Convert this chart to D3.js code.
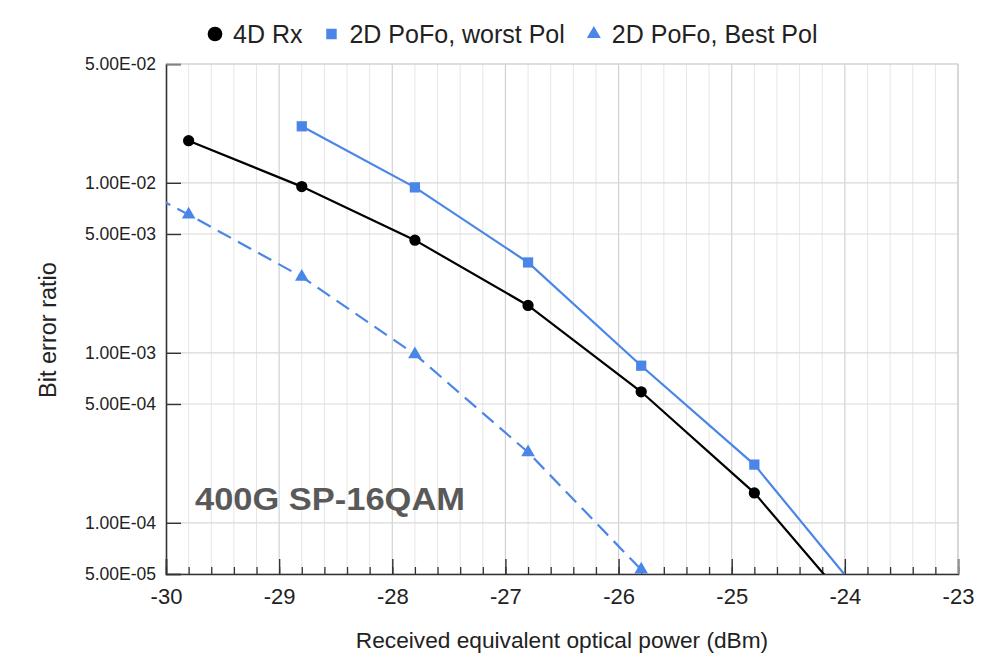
<!DOCTYPE html>
<html>
<head>
<meta charset="utf-8">
<script src="https://cdn.jsdelivr.net/npm/d3@7"></script>
<style>
  body { margin: 0; background: #fff; }
  svg { font-family: "Liberation Sans", Arial, sans-serif; }
</style>
</head>
<body>
<svg id="chart"></svg>
<script>
// series: received power (dBm) vs bit error ratio
const rxPower = [-29.8, -28.8, -27.8, -26.8, -25.8, -24.8, -23.8];
const rxBer = [1.77e-2, 9.5e-3, 4.6e-3, 1.9e-3, 5.9e-4, 1.5e-4, 2.5e-5];

const worstPower = [-28.8, -27.8, -26.8, -25.8, -24.8, -23.8];
const worstBer = [2.15e-2, 9.4e-3, 3.4e-3, 8.4e-4, 2.2e-4, 3.4e-5];

const bestPower = [-30.8, -29.8, -28.8, -27.8, -26.8, -25.8];
const bestBer = [1.45e-2, 6.5e-3, 2.8e-3, 9.8e-4, 2.6e-4, 5.3e-5];

const xTicks = [-30, -29, -28, -27, -26, -25, -24, -23];
const yTicks = [5e-2, 1e-2, 5e-3, 1e-3, 5e-4, 1e-4, 5e-5];

const seriesNames = ["4D Rx", "2D PoFo, worst Pol", "2D PoFo, Best Pol"];

const width = 997, height = 663;
const margin = {top: 64, right: 39, bottom: 89, left: 166};
const blue = "#4a86e8";

const svg = d3.select("#chart")
  .attr("width", width)
  .attr("height", height);

const x = d3.scaleLinear()
  .domain([-30, -23])
  .range([margin.left, width - margin.right]);

const y = d3.scaleLog()
  .domain([5e-5, 5e-2])
  .range([height - margin.bottom, margin.top]);

const fmtE = v => {
  const [m, e] = v.toExponential(2).split("e");
  const n = +e;
  return m + "E" + (n < 0 ? "-" : "+") + String(Math.abs(n)).padStart(2, "0");
};

// grid
const minorX = d3.range(-30, -22.99, 0.2).map(v => Math.round(v * 10) / 10);
svg.append("g")
  .selectAll("line")
  .data(minorX.filter(v => Math.abs(v - Math.round(v)) > 1e-6))
  .join("line")
  .attr("x1", d => x(d)).attr("x2", d => x(d))
  .attr("y1", y.range()[1]).attr("y2", y.range()[0])
  .attr("stroke", "#e6e6e6").attr("stroke-width", 1);

svg.append("g")
  .selectAll("line")
  .data(xTicks.slice(1))
  .join("line")
  .attr("x1", d => x(d)).attr("x2", d => x(d))
  .attr("y1", y.range()[1]).attr("y2", y.range()[0])
  .attr("stroke", "#d2d2d2").attr("stroke-width", 1.2);

svg.append("g")
  .selectAll("line")
  .data(yTicks)
  .join("line")
  .attr("x1", x.range()[0]).attr("x2", x.range()[1])
  .attr("y1", d => y(d)).attr("y2", d => y(d))
  .attr("stroke", "#d9d9d9").attr("stroke-width", 1.2);

// axes
const yAxis = d3.axisLeft(y)
  .tickValues(yTicks)
  .tickFormat(fmtE)
  .tickSize(-15)
  .tickPadding(10);

svg.append("g")
  .attr("transform", `translate(${margin.left},0)`)
  .call(yAxis)
  .call(g => g.select(".domain").attr("stroke", "#333").attr("stroke-width", 1.6))
  .call(g => g.selectAll(".tick line").attr("stroke", "#333").attr("stroke-width", 1.4))
  .call(g => g.selectAll(".tick text")
    .attr("font-size", 17.5).attr("fill", "#222")
    .attr("font-family", "Liberation Sans, Arial, sans-serif"));

const xMinor = d3.axisBottom(x)
  .tickValues(minorX)
  .tickFormat("")
  .tickSize(-7);

svg.append("g")
  .attr("transform", `translate(0,${height - margin.bottom})`)
  .call(xMinor)
  .call(g => g.select(".domain").remove())
  .call(g => g.selectAll(".tick line").attr("stroke", "#333").attr("stroke-width", 1.3));

const xAxis = d3.axisBottom(x)
  .tickValues(xTicks)
  .tickFormat(d => String(d))
  .tickSize(-15)
  .tickPadding(14);

svg.append("g")
  .attr("transform", `translate(0,${height - margin.bottom})`)
  .call(xAxis)
  .call(g => g.select(".domain").attr("stroke", "#333").attr("stroke-width", 1.6))
  .call(g => g.selectAll(".tick line").attr("stroke", "#333").attr("stroke-width", 1.4))
  .call(g => g.selectAll(".tick text")
    .attr("font-size", 22).attr("fill", "#222")
    .attr("font-family", "Liberation Sans, Arial, sans-serif"));

// top / right frame
svg.append("line")
  .attr("x1", x.range()[0]).attr("x2", x.range()[1])
  .attr("y1", y.range()[1]).attr("y2", y.range()[1])
  .attr("stroke", "#d0d0d0").attr("stroke-width", 1.2);
svg.append("line")
  .attr("x1", x.range()[1]).attr("x2", x.range()[1])
  .attr("y1", y.range()[1]).attr("y2", y.range()[0])
  .attr("stroke", "#d0d0d0").attr("stroke-width", 1.2);

// titles
svg.append("text")
  .attr("x", 562)
  .attr("y", 648)
  .attr("text-anchor", "middle")
  .attr("font-size", 22.7).attr("fill", "#222")
  .text("Received equivalent optical power (dBm)");

svg.append("text")
  .attr("transform", "translate(56,330) rotate(-90)")
  .attr("text-anchor", "middle")
  .attr("font-size", 23.5).attr("fill", "#222")
  .text("Bit error ratio");

svg.append("text")
  .attr("x", 195)
  .attr("y", 510)
  .attr("font-size", 31).attr("font-weight", "bold").attr("fill", "#595959")
  .attr("textLength", 270).attr("lengthAdjust", "spacingAndGlyphs")
  .text("400G SP-16QAM");

// series
svg.append("clipPath").attr("id", "plot-clip")
  .append("rect")
  .attr("x", x.range()[0]).attr("y", y.range()[1])
  .attr("width", x.range()[1] - x.range()[0])
  .attr("height", y.range()[0] - y.range()[1]);

const series = [
  {name: seriesNames[0], xs: rxPower, ys: rxBer, color: "#000", dash: null, symbol: d3.symbolCircle, size: 100},
  {name: seriesNames[1], xs: worstPower, ys: worstBer, color: blue, dash: null, symbol: d3.symbolSquare, size: 105},
  {name: seriesNames[2], xs: bestPower, ys: bestBer, color: blue, dash: "15,8", symbol: d3.symbolTriangle, size: 80}
];

const line = d3.line()
  .x(d => x(d[0]))
  .y(d => y(d[1]));

const inDomain = d => d[0] >= -30 && d[0] <= -23 && d[1] >= 5e-5 && d[1] <= 5e-2;

series.forEach(s => {
  const pts = s.xs.map((v, i) => [v, s.ys[i]]);
  svg.append("path")
    .datum(pts)
    .attr("clip-path", "url(#plot-clip)")
    .attr("fill", "none")
    .attr("stroke", s.color)
    .attr("stroke-width", 2.2)
    .attr("stroke-dasharray", s.dash)
    .attr("d", line);

  svg.append("g")
    .selectAll("path")
    .data(pts.filter(inDomain))
    .join("path")
    .attr("transform", d => `translate(${x(d[0])},${y(d[1])})`)
    .attr("d", d3.symbol(s.symbol, s.size))
    .attr("fill", s.color);
});

// legend
const legend = svg.append("g").attr("transform", "translate(215,34)");
let lx = 0;
series.forEach(s => {
  const item = legend.append("g").attr("transform", `translate(${lx},0)`);
  item.append("path")
    .attr("d", d3.symbol(s.symbol, s.symbol === d3.symbolCircle ? 170 : s.symbol === d3.symbolSquare ? 110 : 85))
    .attr("fill", s.color);
  const t = item.append("text")
    .attr("x", 18)
    .attr("y", 8.5)
    .attr("font-size", 25)
    .attr("fill", "#222")
    .text(s.name);
  lx += 18 + t.node().getComputedTextLength() + 29;
});
</script>
</body>
</html>
